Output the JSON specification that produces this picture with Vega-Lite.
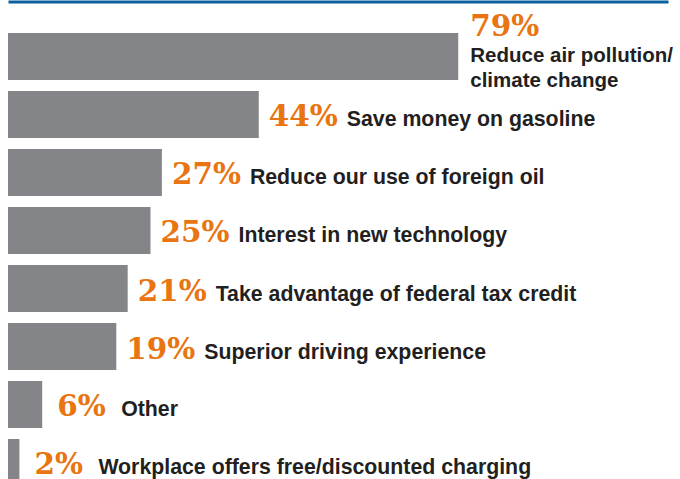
{
  "$schema": "https://vega.github.io/schema/vega-lite/v6.json",
  "autosize": {"type": "none"},
  "width": 660,
  "height": 479,
  "padding": {"left": 8, "top": 0, "right": 12, "bottom": 0},
  "background": "white",
  "config": {"view": {"stroke": null}},
  "data": {
    "values": [
      {"reason": "Reduce air pollution/\nclimate change", "share": 0.79},
      {"reason": "Save money on gasoline", "share": 0.44},
      {"reason": "Reduce our use of foreign oil", "share": 0.27},
      {"reason": "Interest in new technology", "share": 0.25},
      {"reason": "Take advantage of federal tax credit", "share": 0.21},
      {"reason": "Superior driving experience", "share": 0.19},
      {"reason": "Other", "share": 0.06},
      {"reason": "Workplace offers free/discounted charging", "share": 0.02}
    ]
  },
  "encoding": {
    "y": {"field": "reason", "type": "nominal", "sort": null, "axis": null,
          "scale": {"range": [33, 486], "paddingInner": 0.19, "paddingOuter": 0}},
    "x": {"field": "share", "type": "quantitative",
          "scale": {"domain": [0, 1.158], "nice": false, "zero": true},
          "axis": {"orient": "top", "domain": true, "domainColor": "#0b5f9d", "domainWidth": 3,
                   "ticks": false, "labels": false, "grid": false, "title": null, "offset": -1.5}}
  },
  "layer": [
    {"mark": {"type": "bar", "color": "#848589"}},
    {
      "transform": [{"filter": "datum.share < 0.7 && datum.share >= 0.1"}],
      "mark": {"type": "text", "align": "left", "baseline": "alphabetic", "dx": 10, "dy": 12,
               "font": "DejaVu Serif", "fontWeight": "bold", "fontSize": 29.5, "color": "#e87511"},
      "encoding": {"text": {"field": "share", "format": ".0%"}}
    },
    {
      "transform": [{"filter": "datum.share < 0.1"}],
      "mark": {"type": "text", "align": "left", "baseline": "alphabetic", "dx": 15, "dy": 11,
               "font": "DejaVu Serif", "fontWeight": "bold", "fontSize": 29.5, "color": "#e87511"},
      "encoding": {"text": {"field": "share", "format": ".0%"}}
    },
    {
      "transform": [{"filter": "datum.share < 0.7 && datum.share >= 0.1"}],
      "mark": {"type": "text", "align": "left", "baseline": "alphabetic", "dx": 88, "dy": 12,
               "font": "Liberation Sans", "fontWeight": "bold", "fontSize": 21.3, "color": "#231f20"},
      "encoding": {"text": {"field": "reason"}}
    },
    {
      "transform": [{"filter": "datum.share < 0.1"}],
      "mark": {"type": "text", "align": "left", "baseline": "alphabetic", "dx": 79, "dy": 11,
               "font": "Liberation Sans", "fontWeight": "bold", "fontSize": 21.3, "color": "#231f20"},
      "encoding": {"text": {"field": "reason"}}
    },
    {
      "transform": [{"filter": "datum.share >= 0.7"}],
      "mark": {"type": "text", "align": "left", "baseline": "alphabetic", "dx": 12, "dy": -20.5,
               "font": "DejaVu Serif", "fontWeight": "bold", "fontSize": 29.5, "color": "#e87511"},
      "encoding": {"text": {"field": "share", "format": ".0%"}}
    },
    {
      "transform": [{"filter": "datum.share >= 0.7"}],
      "mark": {"type": "text", "align": "left", "baseline": "alphabetic", "dx": 12, "dy": 6,
               "lineBreak": "\n", "lineHeight": 24.7,
               "font": "Liberation Sans", "fontWeight": "bold", "fontSize": 20.5, "color": "#231f20"},
      "encoding": {"text": {"field": "reason"}}
    }
  ]
}
